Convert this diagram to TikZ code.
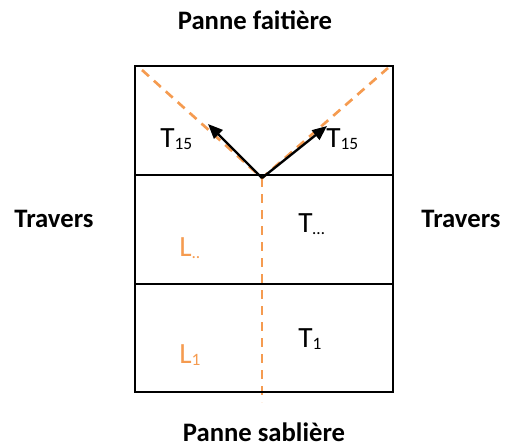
\documentclass[tikz,border=0pt]{standalone}
\usepackage{fontspec}
\setmainfont{Carlito}
\usetikzlibrary{arrows.meta}
\definecolor{dashorange}{RGB}{245,155,80}
\newcommand{\mysub}[1]{\raisebox{-1.5pt}{\fontsize{13}{15}\selectfont #1}}
\begin{document}
\begin{tikzpicture}[x=0.75pt,y=-0.75pt,
  frame/.style={line width=2pt,black},
  guide/.style={line width=2pt,dashorange,dash pattern=on 7pt off 5pt},
  force/.style={line width=1.8pt,black,-{Triangle[length=11pt,width=9pt]}},
  titletext/.style={inner sep=0pt,font=\fontsize{20}{24}\selectfont\bfseries},
  labeltext/.style={inner sep=0pt,anchor=base west,font=\fontsize{22}{26}\selectfont},
  orangetext/.style={labeltext,text=dashorange}]
\useasboundingbox (0,0) rectangle (513,447);
% frame
\coordinate (tl) at (135,66);
\coordinate (br) at (393,392);
\coordinate (d1l) at (135,175);
\coordinate (d1r) at (393,175);
\coordinate (d2l) at (135,284);
\coordinate (d2r) at (393,284);
% guides
\coordinate (apex) at (262,178);
\coordinate (gl) at (142,70);
\coordinate (gr) at (388,68);
\coordinate (gb) at (262,402);
\draw[guide] (gl) -- (apex) -- (gr);
\draw[guide] (apex) -- (gb);
\draw[frame] (tl) rectangle (br);
\draw[frame] (d1l) -- (d1r);
\draw[frame] (d2l) -- (d2r);
% forces
\coordinate (tipl) at (208,124);
\coordinate (tipr) at (327,126);
\draw[force] (apex) -- (tipl);
\draw[force] (apex) -- (tipr);
% labels
\node[labeltext] (t15l) at (160,147) {T\mysub{15}};
\node[labeltext] (t15r) at (326,147) {T\mysub{15}};
\node[labeltext] (tdots) at (298,232) {T\mysub{…}};
\node[labeltext] (t1) at (298,347) {T\mysub{1}};
\node[orangetext] (ldots) at (179,256) {L\mysub{..}};
\node[orangetext] (l1) at (179,363) {L\mysub{1}};
% titles
\node[titletext,anchor=base] (top) at (255,29) {Panne faitière};
\node[titletext,anchor=base] (bottom) at (264,441) {Panne sablière};
\node[titletext,anchor=base] (left) at (54,227) {Travers};
\node[titletext,anchor=base] (right) at (461,227) {Travers};
\end{tikzpicture}
\end{document}
